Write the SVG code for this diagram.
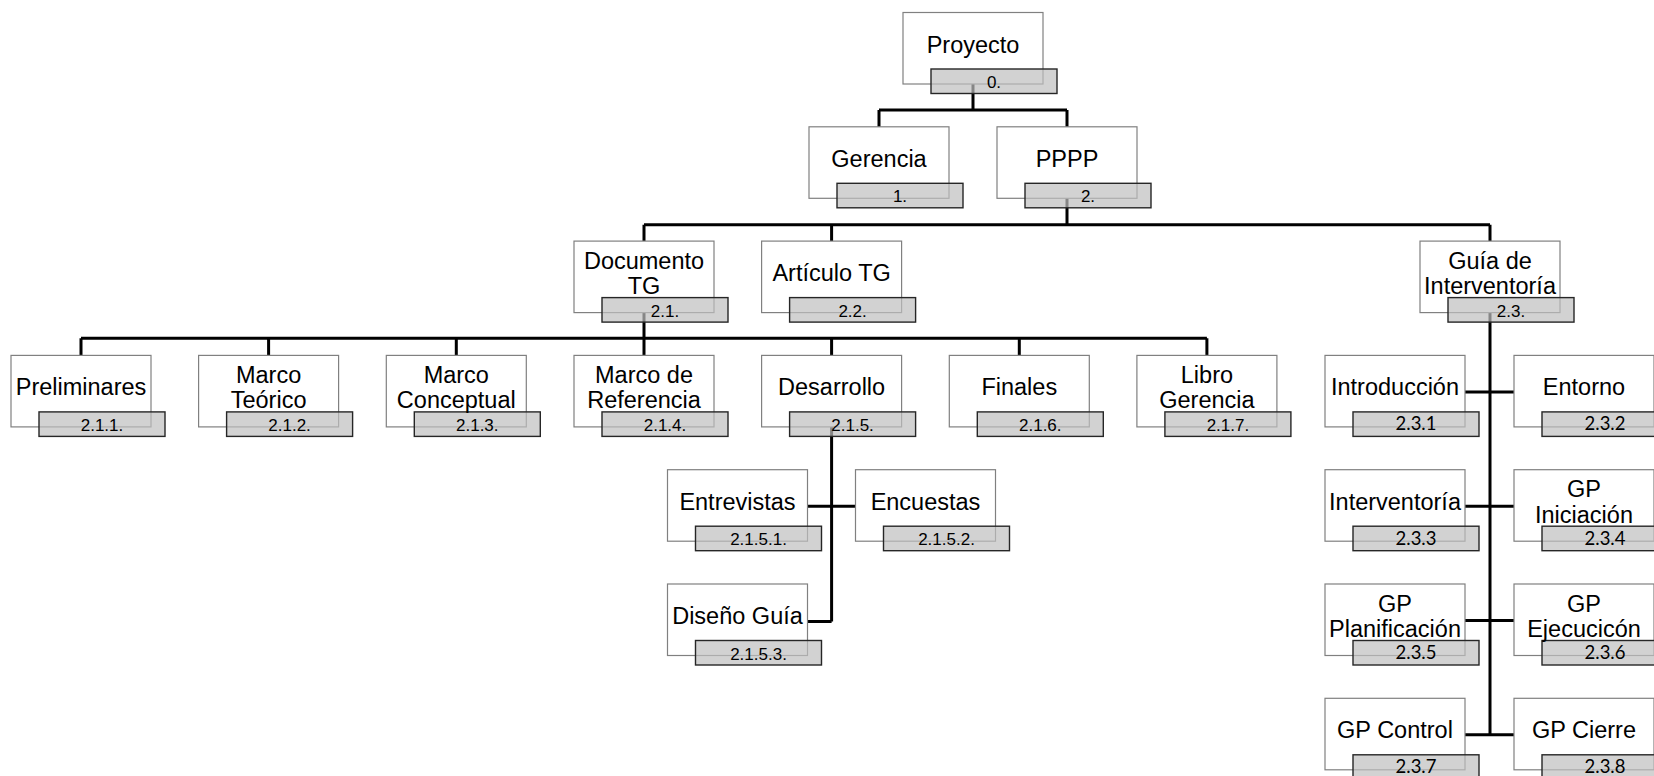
<svg xmlns="http://www.w3.org/2000/svg" width="1654" height="776" viewBox="0 0 1654 776">
<style>
.bx{fill:#fff;stroke:#808080;stroke-width:1.2}
.cd{fill:#bfbfbf;fill-opacity:0.7;stroke:#262626;stroke-width:1.4}
.t{font-family:"Liberation Sans",Arial,sans-serif;font-size:23.5px;fill:#000;text-anchor:middle}
.c{font-family:"Liberation Sans",Arial,sans-serif;font-size:17px;fill:#000;text-anchor:middle}
.c2{font-family:Lato,"Liberation Sans",sans-serif;font-size:18.5px;fill:#000;text-anchor:middle}
.ln{fill:none;stroke:#000;stroke-width:3;stroke-linejoin:miter;stroke-linecap:butt}
</style>
<rect width="1654" height="776" fill="#fff"/>
<g id="connectors" class="ln">
<path d="M973 83 V110 M879 110 H1067 M879 110 V127 M1067 110 V127"/>
<path d="M1067 198 V224.7 M644 224.7 H1490 M644 224.7 V241 M831.6 224.7 V241 M1490 224.7 V241"/>
<path d="M644 312.6 V338.3 M81 338.3 H1206.9 M81 338.3 V355.4 M268.6 338.3 V355.4 M456.3 338.3 V355.4 M644 338.3 V355.4 M831.6 338.3 V355.4 M1019.3 338.3 V355.4 M1206.9 338.3 V355.4"/>
<path d="M831.6 427 V621.5 M807.5 506.2 H855.5 M807.5 621.5 H831.6"/>
<path d="M1490 312.6 V735.8 M1465 391.9 H1514 M1465 506.2 H1514 M1465 620.5 H1514 M1465 734.8 H1514"/>
</g>
<g id="proyecto"><rect class="bx" x="903" y="12.5" width="140" height="71.5"/><rect class="cd" x="931" y="69" width="126" height="24.5"/><text class="t" x="973" y="52.5">Proyecto</text><text class="c" x="994" y="88">0.</text></g>
<g id="gerencia"><rect class="bx" x="809" y="126.8" width="140" height="71.5"/><rect class="cd" x="837" y="183.3" width="126" height="24.5"/><text class="t" x="879" y="166.8">Gerencia</text><text class="c" x="900" y="202.3">1.</text></g>
<g id="pppp"><rect class="bx" x="997" y="126.8" width="140" height="71.5"/><rect class="cd" x="1025" y="183.3" width="126" height="24.5"/><text class="t" x="1067" y="166.8">PPPP</text><text class="c" x="1088" y="202.3">2.</text></g>
<g id="documento"><rect class="bx" x="574" y="241.1" width="140" height="71.5"/><rect class="cd" x="602" y="297.6" width="126" height="24.5"/><text class="t" x="644" y="268.6">Documento</text><text class="t" x="644" y="294.1">TG</text><text class="c" x="665" y="316.6">2.1.</text></g>
<g id="articulo"><rect class="bx" x="761.6" y="241.1" width="140" height="71.5"/><rect class="cd" x="789.6" y="297.6" width="126" height="24.5"/><text class="t" x="831.6" y="281.1">Artículo TG</text><text class="c" x="852.6" y="316.6">2.2.</text></g>
<g id="guia"><rect class="bx" x="1420" y="241.1" width="140" height="71.5"/><rect class="cd" x="1448" y="297.6" width="126" height="24.5"/><text class="t" x="1490" y="268.6">Guía de</text><text class="t" x="1490" y="294.1">Interventoría</text><text class="c" x="1511" y="316.6">2.3.</text></g>
<g id="preliminares"><rect class="bx" x="11" y="355.4" width="140" height="71.5"/><rect class="cd" x="39" y="411.9" width="126" height="24.5"/><text class="t" x="81" y="395.4">Preliminares</text><text class="c" x="102" y="430.9">2.1.1.</text></g>
<g id="marco-teorico"><rect class="bx" x="198.6" y="355.4" width="140" height="71.5"/><rect class="cd" x="226.6" y="411.9" width="126" height="24.5"/><text class="t" x="268.6" y="382.9">Marco</text><text class="t" x="268.6" y="408.4">Teórico</text><text class="c" x="289.6" y="430.9">2.1.2.</text></g>
<g id="marco-conceptual"><rect class="bx" x="386.3" y="355.4" width="140" height="71.5"/><rect class="cd" x="414.3" y="411.9" width="126" height="24.5"/><text class="t" x="456.3" y="382.9">Marco</text><text class="t" x="456.3" y="408.4">Conceptual</text><text class="c" x="477.3" y="430.9">2.1.3.</text></g>
<g id="marco-referencia"><rect class="bx" x="574" y="355.4" width="140" height="71.5"/><rect class="cd" x="602" y="411.9" width="126" height="24.5"/><text class="t" x="644" y="382.9">Marco de</text><text class="t" x="644" y="408.4">Referencia</text><text class="c" x="665" y="430.9">2.1.4.</text></g>
<g id="desarrollo"><rect class="bx" x="761.6" y="355.4" width="140" height="71.5"/><rect class="cd" x="789.6" y="411.9" width="126" height="24.5"/><text class="t" x="831.6" y="395.4">Desarrollo</text><text class="c" x="852.6" y="430.9">2.1.5.</text></g>
<g id="finales"><rect class="bx" x="949.3" y="355.4" width="140" height="71.5"/><rect class="cd" x="977.3" y="411.9" width="126" height="24.5"/><text class="t" x="1019.3" y="395.4">Finales</text><text class="c" x="1040.3" y="430.9">2.1.6.</text></g>
<g id="libro-gerencia"><rect class="bx" x="1136.9" y="355.4" width="140" height="71.5"/><rect class="cd" x="1164.9" y="411.9" width="126" height="24.5"/><text class="t" x="1206.9" y="382.9">Libro</text><text class="t" x="1206.9" y="408.4">Gerencia</text><text class="c" x="1227.9" y="430.9">2.1.7.</text></g>
<g id="entrevistas"><rect class="bx" x="667.5" y="469.7" width="140" height="71.5"/><rect class="cd" x="695.5" y="526.2" width="126" height="24.5"/><text class="t" x="737.5" y="509.7">Entrevistas</text><text class="c" x="758.5" y="545.2">2.1.5.1.</text></g>
<g id="encuestas"><rect class="bx" x="855.5" y="469.7" width="140" height="71.5"/><rect class="cd" x="883.5" y="526.2" width="126" height="24.5"/><text class="t" x="925.5" y="509.7">Encuestas</text><text class="c" x="946.5" y="545.2">2.1.5.2.</text></g>
<g id="diseno-guia"><rect class="bx" x="667.5" y="584" width="140" height="71.5"/><rect class="cd" x="695.5" y="640.5" width="126" height="24.5"/><text class="t" x="737.5" y="624">Diseño Guía</text><text class="c" x="758.5" y="659.5">2.1.5.3.</text></g>
<g id="introduccion"><rect class="bx" x="1325" y="355.4" width="140" height="71.5"/><rect class="cd" x="1353" y="411.9" width="126" height="24.5"/><text class="t" x="1395" y="395.4">Introducción</text><text class="c2" x="1416" y="430.4">2.3.1</text></g>
<g id="entorno"><rect class="bx" x="1514" y="355.4" width="140" height="71.5"/><rect class="cd" x="1542" y="411.9" width="126" height="24.5"/><text class="t" x="1584" y="395.4">Entorno</text><text class="c2" x="1605" y="430.4">2.3.2</text></g>
<g id="interventoria"><rect class="bx" x="1325" y="469.7" width="140" height="71.5"/><rect class="cd" x="1353" y="526.2" width="126" height="24.5"/><text class="t" x="1395" y="509.7">Interventoría</text><text class="c2" x="1416" y="544.7">2.3.3</text></g>
<g id="gp-iniciacion"><rect class="bx" x="1514" y="469.7" width="140" height="71.5"/><rect class="cd" x="1542" y="526.2" width="126" height="24.5"/><text class="t" x="1584" y="497.2">GP</text><text class="t" x="1584" y="522.7">Iniciación</text><text class="c2" x="1605" y="544.7">2.3.4</text></g>
<g id="gp-planificacion"><rect class="bx" x="1325" y="584" width="140" height="71.5"/><rect class="cd" x="1353" y="640.5" width="126" height="24.5"/><text class="t" x="1395" y="611.5">GP</text><text class="t" x="1395" y="637">Planificación</text><text class="c2" x="1416" y="659">2.3.5</text></g>
<g id="gp-ejecucion"><rect class="bx" x="1514" y="584" width="140" height="71.5"/><rect class="cd" x="1542" y="640.5" width="126" height="24.5"/><text class="t" x="1584" y="611.5">GP</text><text class="t" x="1584" y="637">Ejecucicón</text><text class="c2" x="1605" y="659">2.3.6</text></g>
<g id="gp-control"><rect class="bx" x="1325" y="698.3" width="140" height="71.5"/><rect class="cd" x="1353" y="754.8" width="126" height="24.5"/><text class="t" x="1395" y="738.3">GP Control</text><text class="c2" x="1416" y="773.3">2.3.7</text></g>
<g id="gp-cierre"><rect class="bx" x="1514" y="698.3" width="140" height="71.5"/><rect class="cd" x="1542" y="754.8" width="126" height="24.5"/><text class="t" x="1584" y="738.3">GP Cierre</text><text class="c2" x="1605" y="773.3">2.3.8</text></g>
</svg>
